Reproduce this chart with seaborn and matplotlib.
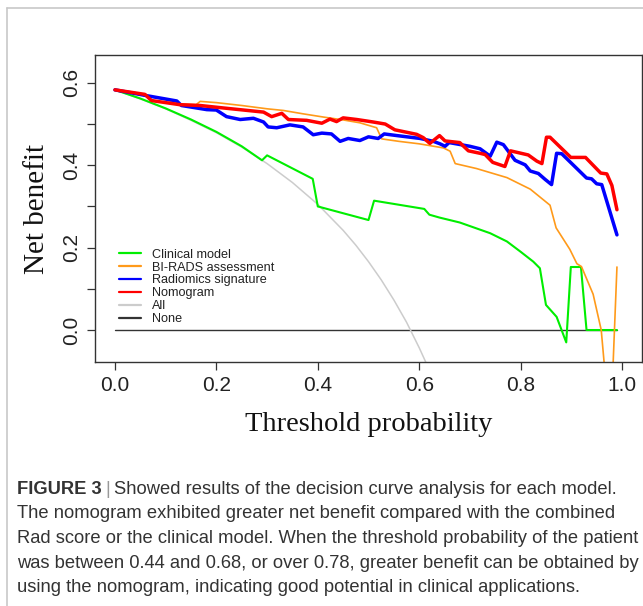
import numpy as np
import pandas as pd
import matplotlib
matplotlib.use("Agg")
import matplotlib.pyplot as plt
from matplotlib.lines import Line2D
import seaborn as sns

# ---------------- data ----------------
clin_t = [0, 0.05, 0.10, 0.15, 0.20, 0.25, 0.29, 0.30, 0.39, 0.40, 0.50, 0.511, 0.61, 0.62,
          0.64, 0.68, 0.74, 0.773, 0.80, 0.825, 0.838, 0.85, 0.871, 0.89, 0.899, 0.919, 0.93, 0.99]
clin_nb = [0.583, 0.562, 0.538, 0.511, 0.481, 0.446, 0.412, 0.424, 0.367, 0.300, 0.267, 0.314, 0.294, 0.280,
           0.273, 0.261, 0.235, 0.215, 0.190, 0.166, 0.150, 0.061, 0.032, -0.030, 0.153, 0.153, 0.0, 0.0]

bir_t = [0, 0.05, 0.10, 0.128, 0.16, 0.168, 0.20, 0.25, 0.30, 0.332, 0.37, 0.411, 0.45, 0.483, 0.516,
         0.526, 0.56, 0.60, 0.648, 0.661, 0.671, 0.713, 0.773, 0.819, 0.858, 0.870, 0.897, 0.911, 0.92,
         0.943, 0.959, 0.977, 0.99]
bir_nb = [0.583, 0.571, 0.559, 0.549, 0.547, 0.555, 0.552, 0.545, 0.537, 0.533, 0.525, 0.517, 0.510, 0.503, 0.491,
          0.464, 0.458, 0.452, 0.442, 0.434, 0.404, 0.392, 0.370, 0.342, 0.303, 0.248, 0.196, 0.161, 0.154,
          0.087, 0.0, -0.25, 0.153]

rad_t = [0, 0.062, 0.122, 0.131, 0.181, 0.20, 0.22, 0.247, 0.273, 0.293, 0.302, 0.319, 0.345, 0.371, 0.391,
         0.408, 0.427, 0.444, 0.46, 0.483, 0.50, 0.519, 0.531, 0.556, 0.602, 0.628, 0.641, 0.651, 0.659,
         0.70, 0.72, 0.74, 0.753, 0.766, 0.789, 0.809, 0.819, 0.835, 0.848, 0.861, 0.871, 0.881, 0.93,
         0.94, 0.95, 0.96, 0.99]
rad_nb = [0.583, 0.569, 0.556, 0.545, 0.535, 0.534, 0.518, 0.511, 0.514, 0.505, 0.493, 0.491, 0.498, 0.493, 0.474,
          0.478, 0.476, 0.458, 0.465, 0.460, 0.469, 0.465, 0.476, 0.472, 0.465, 0.458, 0.452, 0.446, 0.455,
          0.446, 0.440, 0.422, 0.456, 0.450, 0.412, 0.401, 0.386, 0.380, 0.366, 0.353, 0.429, 0.428, 0.369,
          0.367, 0.355, 0.353, 0.231]

nom_t = [0, 0.059, 0.072, 0.128, 0.168, 0.214, 0.293, 0.309, 0.329, 0.342, 0.378, 0.408, 0.424, 0.437, 0.45,
         0.477, 0.509, 0.533, 0.552, 0.595, 0.608, 0.621, 0.64, 0.651, 0.68, 0.697, 0.72, 0.73, 0.745, 0.769,
         0.78, 0.815, 0.832, 0.842, 0.851, 0.858, 0.899, 0.928, 0.958, 0.97, 0.98, 0.99]
nom_nb = [0.583, 0.572, 0.557, 0.547, 0.545, 0.539, 0.529, 0.518, 0.526, 0.511, 0.509, 0.502, 0.512, 0.506, 0.515,
          0.511, 0.505, 0.500, 0.486, 0.475, 0.467, 0.453, 0.472, 0.459, 0.455, 0.435, 0.429, 0.426, 0.407, 0.397,
          0.435, 0.425, 0.410, 0.404, 0.468, 0.468, 0.419, 0.419, 0.381, 0.379, 0.351, 0.292]

all_t = [0, 0.05, 0.10, 0.15, 0.20, 0.25, 0.30, 0.35, 0.40, 0.45, 0.475, 0.50, 0.525, 0.55, 0.575, 0.60, 0.62]
all_nb = [0.583, 0.561, 0.537, 0.509, 0.479, 0.444, 0.404, 0.358, 0.305, 0.242, 0.206, 0.166, 0.122, 0.073,
          0.019, -0.043, -0.097]

none_t = [0, 0.99]
none_nb = [0.0, 0.0]

labels = ["Clinical model", "BI-RADS assessment", "Radiomics signature", "Nomogram", "All", "None"]
colors = ["#00EE00", "#FF9A1A", "#0000FF", "#FF0000", "#CCCCCC", "#333333"]

caption = [
    "The nomogram exhibited greater net benefit compared with the combined",
    "Rad score or the clinical model. When the threshold probability of the patient",
    "was between 0.44 and 0.68, or over 0.78, greater benefit can be obtained by",
    "using the nomogram, indicating good potential in clinical applications.",
]

# ---------------- figure ----------------
sns.set_theme(style="white")
plt.rcParams['font.family'] = ['Liberation Sans', 'DejaVu Sans']

W, H = 643, 606
fig = plt.figure(figsize=(W / 100, H / 100), dpi=100)
fig.patch.set_facecolor("white")

# light frame around the figure panel
fig.add_artist(Line2D([7 / W, 7 / W], [0, 1 - 8 / H], transform=fig.transFigure, color="#C8C8C8", lw=1.2))
fig.add_artist(Line2D([7 / W, 1], [1 - 8 / H, 1 - 8 / H], transform=fig.transFigure, color="#C8C8C8", lw=1.2))

ax = fig.add_axes([95 / W, 1 - 362 / H, (642 - 95) / W, (362 - 55) / H])

series = [
    (none_t, none_nb, colors[5], 1.0),
    (all_t, all_nb, colors[4], 1.1),
    (clin_t, clin_nb, colors[0], 1.5),
    (bir_t, bir_nb, colors[1], 1.2),
    (rad_t, rad_nb, colors[2], 2.5),
    (nom_t, nom_nb, colors[3], 2.5),
]
for t, nb, c, lw in series:
    df = pd.DataFrame({"threshold": t, "net_benefit": nb})
    sns.lineplot(data=df, x="threshold", y="net_benefit", ax=ax, color=c, linewidth=lw,
                 estimator=None, sort=False, legend=False)

ax.set_xlim(-0.0394, 1.0394)
ax.set_ylim(-0.0776, 0.6676)

ax.set_xticks([0, 0.2, 0.4, 0.6, 0.8, 1.0])
ax.set_xticklabels(["0.0", "0.2", "0.4", "0.6", "0.8", "1.0"])
ax.set_yticks([0, 0.1, 0.2, 0.3, 0.4, 0.5, 0.6])
ax.set_yticklabels(["0.0", "", "0.2", "", "0.4", "", "0.6"], rotation=90, va="center")
ax.tick_params(axis="both", which="major", direction="out", length=6, width=0.9, color="#333333",
               labelsize=15, labelcolor="#222222", bottom=True, left=True)
ax.tick_params(axis="x", pad=4)
ax.tick_params(axis="y", pad=4)

for s in ax.spines.values():
    s.set_visible(True)
    s.set_color("#333333")
    s.set_linewidth(1.0)

ax.set_xlabel("Threshold probability", family=["Liberation Serif", "DejaVu Serif"], fontsize=20.5,
              color="#111111", labelpad=12)
ax.set_ylabel("Net benefit", family=["Liberation Serif", "DejaVu Serif"], fontsize=21,
              color="#111111", labelpad=9)

handles = [Line2D([], [], color=c, lw=1.6) for c in colors]
leg = ax.legend(handles, labels, loc="upper left", bbox_to_anchor=(0.043, 0.369), frameon=False,
                fontsize=9.1, handlelength=1.8, handletextpad=0.85, labelspacing=0.07, borderpad=0,
                borderaxespad=0)
for txt in leg.get_texts():
    txt.set_color("#222222")

# ---------------- caption ----------------
cap_color = "#333333"
cap_fs = 13.2
y0 = 1 - 489 / H
t1 = fig.text(17 / W, y0, "FIGURE 3", fontsize=cap_fs, fontweight="bold", color=cap_color, va="center")
fig.canvas.draw()
r = fig.canvas.get_renderer()
bb = t1.get_window_extent(renderer=r)
x_sep = bb.x1 / W
t2 = fig.text(x_sep + 4 / W, y0, "|", fontsize=cap_fs, color="#999999", va="center")
bb2 = t2.get_window_extent(renderer=r)
fig.text(bb2.x1 / W + 4 / W, y0, "Showed results of the decision curve analysis for each model.",
         fontsize=cap_fs, color=cap_color, va="center")
for i, line in enumerate(caption):
    fig.text(17 / W, 1 - (514 + 24.5 * i) / H, line, fontsize=cap_fs, color=cap_color, va="center")

fig.savefig("out.png", dpi=100)
